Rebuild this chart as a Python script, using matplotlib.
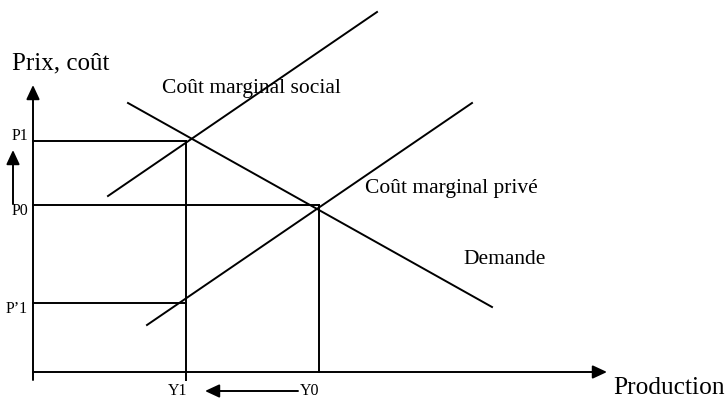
import matplotlib.pyplot as plt

# diagram data (x = production, y = prix / coût), in drawing units
q_labels = ['Y1', 'Y0']
q_values = [153, 286]
p_labels = ['P1', 'P0', 'P\u20191']
p_values = [231, 167, 69]
p_ends = [153, 286, 153]          # which quantity each price line goes to

cms_x = [75, 344]                 # coût marginal social
cms_y = [176, 360]
cmp_x = [114, 439]                # coût marginal privé
cmp_y = [47, 269]
dem_x = [95, 459]                 # demande
dem_y = [269, 65]

plt.rcParams['font.family'] = ['Liberation Serif', 'DejaVu Serif']

fig = plt.figure(figsize=(7.28, 3.98), dpi=100)
ax = fig.add_axes([0, 0, 1, 1])
ax.set_xlim(-33, 695)
ax.set_ylim(-26, 372)
ax.axis('off')

lw = 1.4
k = 'black'
head = '-|>,head_length=0.86,head_width=0.4'

# axes with arrow heads
ax.annotate('', xy=(0, 287), xytext=(0, -8),
            arrowprops=dict(arrowstyle=head, lw=lw, color=k, shrinkA=0, shrinkB=0))
ax.annotate('', xy=(574, 0), xytext=(0, 0),
            arrowprops=dict(arrowstyle=head, lw=lw, color=k, shrinkA=0, shrinkB=0))
ax.text(-21, 303, 'Prix, coût', fontsize=18, ha='left', va='baseline')
ax.text(580, -22, 'Production', fontsize=18.3, ha='left', va='baseline')

# curves
ax.plot(cms_x, cms_y, color=k, lw=lw)
ax.plot(cmp_x, cmp_y, color=k, lw=lw)
ax.plot(dem_x, dem_y, color=k, lw=lw)
ax.text(129, 284, 'Coût marginal social', fontsize=15.5, va='center')
ax.text(332, 184, 'Coût marginal privé', fontsize=15.5, va='center')
ax.text(430, 113, 'Demande', fontsize=15.5, va='center')

# price levels
p_va = ['bottom', 'top', 'top']
for lab, p, q, va in zip(p_labels, p_values, p_ends, p_va):
    ax.plot([0, q], [p, p], color=k, lw=lw)
    ax.text(-5, p + (-3 if va == 'bottom' else 2), lab, fontsize=11.5, ha='right', va=va)

# quantity levels
ax.plot([q_values[0], q_values[0]], [-8, p_values[0]], color=k, lw=lw)
ax.plot([q_values[1], q_values[1]], [0, p_values[1]], color=k, lw=lw)
ax.text(q_values[0] - 8, -19, q_labels[0], fontsize=11.5, ha='center', va='center')
ax.text(q_values[1] - 9, -19, q_labels[1], fontsize=11.5, ha='center', va='center')

# shift arrows
ax.annotate('', xy=(q_values[0] + 19, -19), xytext=(q_values[1] - 21, -19),
            arrowprops=dict(arrowstyle=head, lw=lw, color=k, shrinkA=0, shrinkB=0))
ax.annotate('', xy=(-20, p_values[0] - 9), xytext=(-20, p_values[1] + 1),
            arrowprops=dict(arrowstyle=head, lw=lw, color=k, shrinkA=0, shrinkB=0))

fig.savefig('out.png', dpi=100)
